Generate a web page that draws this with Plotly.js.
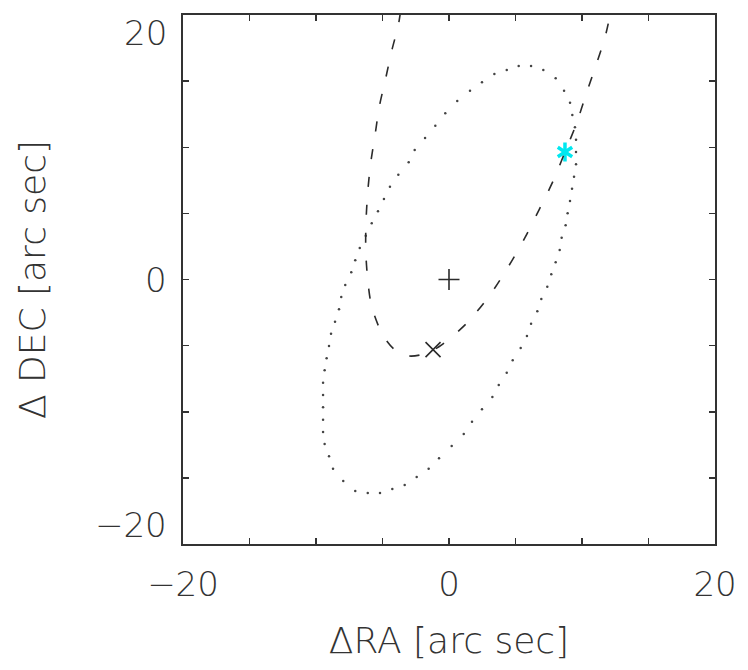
<!DOCTYPE html>
<html>
<head>
<meta charset="utf-8">
<script src="https://cdn.plot.ly/plotly-3.0.1.min.js"></script>
<style>html,body{margin:0;padding:0;background:#fff;}#chart{width:748px;height:670px;}</style>
</head>
<body>
<div id="chart"></div>
<script>
// Dotted error ellipse (dot positions)
const ellipseX = [0.62,1.58,2.48,3.41,4.34,5.24,6.17,7.09,8.02,8.65,9.10,9.27,9.47,9.55,9.55,9.55,9.40,9.25,9.10,8.92,8.77,8.47,8.32,8.02,7.69,7.39,6.94,6.64,6.17,5.86,5.39,4.79,4.34,3.74,3.26,2.48,1.73,1.11,0.20,-0.75,-1.53,-2.43,-3.33,-4.26,-5.19,-6.11,-7.05,-7.95,-8.72,-9.02,-9.35,-9.47,-9.47,-9.47,-9.47,-9.47,-9.35,-9.20,-9.02,-8.87,-8.57,-8.27,-8.10,-7.80,-7.35,-7.05,-6.71,-6.26,-5.81,-5.34,-4.89,-4.44,-3.81,-3.03,-2.58,-1.80,-1.03,-0.28];
const ellipseY = [13.50,14.28,14.91,15.54,15.84,16.14,16.14,15.84,15.21,14.28,13.37,12.44,11.51,10.57,9.64,8.71,7.77,6.87,5.94,5.01,4.10,3.16,2.23,1.30,0.39,-0.54,-1.47,-2.40,-3.34,-4.27,-5.18,-6.11,-7.05,-7.98,-8.88,-9.81,-10.75,-11.68,-12.59,-13.52,-14.31,-14.93,-15.54,-15.84,-16.14,-16.14,-15.99,-15.24,-14.31,-13.37,-12.44,-11.53,-10.60,-9.66,-8.73,-7.80,-6.87,-5.96,-5.03,-4.10,-3.19,-2.25,-1.32,-0.42,0.54,1.45,2.38,3.31,4.25,5.16,6.09,7.02,7.92,8.86,9.79,10.70,11.63,12.57];

// Dashed curve (vertices)
const curveX = [-3.65,-3.81,-4.31,-4.76,-5.24,-5.56,-5.89,-6.11,-6.24,-6.26,-6.11,-5.81,-4.98,-4.06,-3.06,-2.18,-1.18,-0.55,1.33,3.08,4.46,5.71,6.79,7.84,8.72,9.60,10.30,11.03,11.73,12.22];
const curveY = [20.23,19.24,17.28,15.21,13.07,10.92,8.79,6.62,4.37,2.23,-0.04,-2.06,-4.20,-5.33,-5.78,-5.71,-5.33,-4.95,-3.31,-1.17,0.97,3.16,5.31,7.47,9.64,11.83,13.99,16.14,18.31,20.53];

// Markers
const centerX = [0], centerY = [0];
const crossX = [-1.2], crossY = [-5.3];
const starX = [8.72], starY = [9.64];

// Axis ticks
const tickVals = [-20,-15,-10,-5,0,5,10,15,20];
const xTickText = ['\u221220','','','','0','','','','20'];
const yLabelVals = [20, 0, -20];
const yLabelText = ['20','0','\u221220'];

const ink = '#2b2b2b';
const cyan = '#00e8f0';
const fontFam = 'DejaVu Sans ExtraLight, DejaVu Sans, sans-serif';

const traces = [
  {x: ellipseX, y: ellipseY, mode: 'markers', type: 'scatter',
   marker: {size: 2.5, color: '#444'}, hoverinfo: 'none'},
  {x: starX, y: starY, mode: 'markers', type: 'scatter',
   marker: {symbol: 'y-up-open', size: 12, color: cyan, line: {color: cyan, width: 3.5}}},
  {x: starX, y: starY, mode: 'markers', type: 'scatter',
   marker: {symbol: 'y-down-open', size: 12, color: cyan, line: {color: cyan, width: 3.5}}},
  {x: curveX, y: curveY, mode: 'lines', type: 'scatter',
   line: {color: ink, width: 1.6, dash: '10px,18px', shape: 'spline', smoothing: 0.8}},
  {x: centerX, y: centerY, mode: 'markers', type: 'scatter',
   marker: {symbol: 'cross-thin-open', size: 15, color: ink, line: {color: ink, width: 1.6}}},
  {x: crossX, y: crossY, mode: 'markers', type: 'scatter',
   marker: {symbol: 'x-thin-open', size: 15, color: ink, line: {color: ink, width: 1.6}}}
];

const annotations = yLabelVals.map((v, i) => ({
  x: 0, xref: 'paper', y: v, yref: 'y', text: yLabelText[i], showarrow: false,
  xanchor: 'right', yanchor: v > 0 ? 'top' : (v < 0 ? 'bottom' : 'middle'),
  xshift: -14, yshift: v > 0 ? 4 : (v < 0 ? -3 : 0),
  font: {family: fontFam, size: 34, color: '#333', weight: 200}
}));

const layout = {
  width: 748, height: 670,
  margin: {l: 183, r: 33, t: 15, b: 126},
  paper_bgcolor: '#fff', plot_bgcolor: '#fff',
  showlegend: false,
  font: {family: fontFam, color: '#333', weight: 200},
  xaxis: {
    range: [-20, 20], tickmode: 'array', tickvals: tickVals, ticktext: xTickText,
    ticks: 'inside', ticklen: 6, tickwidth: 1.5, tickcolor: '#333',
    showline: true, linecolor: '#333', linewidth: 1.6, mirror: 'ticks',
    showgrid: false, zeroline: false,
    tickfont: {family: fontFam, size: 34, color: '#333', weight: 200},
    ticklabelstandoff: 10,
    title: {text: '\u0394RA [arc sec]', font: {family: fontFam, size: 36, color: '#333', weight: 200}, standoff: 24}
  },
  yaxis: {
    range: [-20, 20], tickmode: 'array', tickvals: tickVals, ticktext: tickVals.map(() => ''),
    ticks: 'inside', ticklen: 6, tickwidth: 1.5, tickcolor: '#333',
    showline: true, linecolor: '#333', linewidth: 1.6, mirror: 'ticks',
    showgrid: false, zeroline: false,
    title: {text: '\u0394 DEC [arc sec]', font: {family: fontFam, size: 36, color: '#333', weight: 200}, standoff: 122}
  },
  annotations: annotations
};

Plotly.newPlot('chart', traces, layout, {staticPlot: true, displayModeBar: false});
</script>
</body>
</html>
